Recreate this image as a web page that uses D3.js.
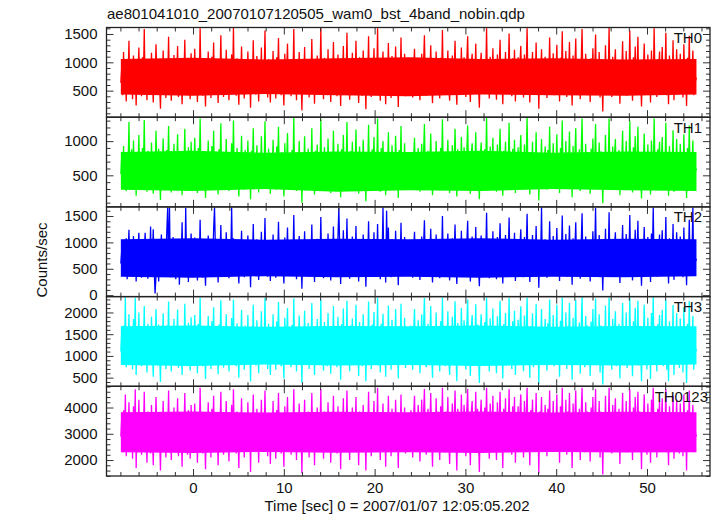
<!DOCTYPE html>
<html><head><meta charset="utf-8">
<script src="https://cdn.jsdelivr.net/npm/d3@7"></script>
<style>body{margin:0;background:#fff}svg{display:block}text{font-family:"Liberation Sans",Arial,Helvetica,sans-serif;fill:#111}</style>
</head><body><svg id="c" width="717" height="516"></svg>
<script>
const titleText = "ae801041010_20070107120505_wam0_bst_4band_nobin.qdp";
const xLabelText = "Time [sec] 0 = 2007/01/07 12:05:05.202";
const yLabelText = "Counts/sec";
const panelNames = ["TH0","TH1","TH2","TH3","TH0123"];
const panelColors = ["#ff0000","#00ff00","#0000ff","#00ffff","#ff00ff"];
const yRanges = [[31,1615],[38,1350],[-27,1672],[301,2365],[1393,4808]];
const yMajorStep = [500,500,500,500,1000];
const yMinorStep = [100,100,100,100,200];
const xRange = [-9.53,56.94];
const xMajorTicks = [0,10,20,30,40,50];
const xMinorStep = 2;
const timeStart = -7.95, timeEnd = 55.45;

// dense core of each light curve (solid band), every ~8 s
const th0BandLow  = [430,410,440,420,400,430,420,410,430];
const th0BandHigh = [1060,1080,1050,1070,1090,1060,1070,1050,1060];
const th1BandLow  = [290,270,300,260,280,270,300,280,270];
const th1BandHigh = [840,860,830,850,840,860,830,850,840];
const th2BandLow  = [350,330,360,340,350,330,350,340,360];
const th2BandHigh = [1060,1080,1050,1070,1060,1080,1050,1070,1060];
const th3BandLow  = [790,770,800,780,790,770,790,780,800];
const th3BandHigh = [1680,1700,1670,1690,1680,1700,1670,1690,1680];
const th0123BandLow  = [2300,2270,2310,2280,2300,2270,2310,2290,2300];
const th0123BandHigh = [3820,3850,3810,3840,3820,3850,3810,3840,3820];

const th0 = [640,910,420,1180,560,820,310,1020,690,1380,470,760,980,350,1120,580,860,240,940,700,
1260,520,830,400,1090,660,1590,480,770,330,1010,620,890,450,1170,710,290,960,540,1320,
800,430,1060,610,180,930,720,1210,500,850,370,1040,670,1450,560,790,320,990,640,1130,
460,880,740,1290,390,1020,590,810,260,970,680,1400,530,900,420,1080,750,350,1160,620,
840,480,1240,700,950,300,1070,560,1600,640,870,410,1010,730,220,940,600,1190,510,820,
370,1100,680,1350,450,920,610,790,280,1050,700,1480,540,860,390,1000,650,1220,470,780,
330,960,720,1140,560,1610,490,830,410,1070,620,250,980,690,1280,530,880,360,1030,740,
460,1190,600,910,200,1020,670,1390,520,850,430,1110,760,310,950,580,1260,490,800,680,
1560,540,900,380,1060,710,290,980,630,1200,470,840,360,1090,740,1430,550,870,420,1000,
660,240,1150,590,810,1330,500,930,720,400,1040,620,1590,480,860,330,990,700,1180,560,
780,150,960,650,1270,440,890,710,1060,380,820,590,1410,510,930,270,1020,680,1120,460,
860,620,1600,530,790,350,1080,700,940,420,1230,580,870,300,1000,660,1360,490,810,720,
400,1140,560,950,230,1050,690,1290,470,880,610,1520,540,760,340,1010,710,1170,450,900,
640,1380,520,830,280,1090,600,970,410,1210,730,860,170,940,680,1460,500,800,390,1040,
710,1250,480,920,600,1600,430,850,320,1070,690,1190,540,880,260,990,650,1340,510,780,
370,1110,620,960,450,1280,700,830,210,1030,580,1440,490,900,660,1150,400,870,720,560,
820,560,1010,690,380,910,1240,600,770,450,1080,880,330,720,1150,540,960,1480,620,410,
850,1030,500,740,1300,660,280,930,810,470,1190,590,1000,720,360,1080,640,1570,530,880,
430,990,760,1210,580,320,940,700,1120,490,830,1380,610,250,1050,780,910,440,1260,670,
570,1090,820,390,1000,1460,630,760,300,970,1150,520,840,680,1330,450,1020,590,200,900,
1170,640,870,480,1060,740,1600,550,930,360,1100,800,620,1250,470,990,700,340,1140,610,
890,1400,520,780,260,1030,680,1180,460,950,730,1510,570,860,400,1070,640,1220,310,820,
700,1090,450,960,1290,590,830,380,1140,670,920,1600,520,790,290,1010,740,1180,430,880,
620,1350,510,870,180,990,720,1230,480,940,600,1100,810,370,1040,660,1440,550,830,690,
1160,420,900,760,1310,540,980,310,1080,690,1550,470,860,620,1200,390,1000,750,1360,580,
800,240,1120,640,910,1420,500,830,720,1060,350,970,1590,610,880,430,1150,700,1010,520,
950,300,1070,680,1250,560,840,1490,470,910,660,1180,380,1020,740,130,960,620,1300,540,
880,710,1610,500,820,390,1100,650,960,1230,440,890,580,1040,270,930,760,1370,480,850,
620,1200,410,970,740,1560,530,860,320,1090,690,1280,560,800,1450,450,1010,710,220,940,
780,1330,600,890,430,1140,660,1000,290,1210,750,540,1600,680,920,390,1060,820,1190,500,
860,1270,470,980,640,1520,420,900,260,1120,730,1010,580,1390,330,970,690,1230,560,840,
450,1150,700,990,380,1320,640,860,230,1080,600,1470,530,920,760,1210,420,890,680,730];

const th1 = [520,780,340,930,460,650,270,840,590,1280,410,700,880,300,1010,480,720,200,820,560,
1090,430,690,330,900,540,1310,390,640,260,860,500,750,360,980,590,230,810,440,1150,
670,350,890,500,140,780,600,1040,410,710,290,870,550,1220,460,660,250,830,520,960,
380,740,610,1100,310,850,480,680,210,810,560,1180,430,760,340,910,620,280,990,510,
700,390,1050,580,800,240,900,460,1330,530,730,330,850,600,170,790,490,1010,420,690,
300,930,560,1150,370,770,500,660,220,880,580,1260,440,720,320,840,540,1030,390,650,
270,800,600,970,460,1300,400,700,330,900,510,190,820,570,1080,430,740,290,870,610,
380,1010,490,760,150,860,550,1190,420,710,350,940,630,250,800,480,1070,400,670,560,
1290,440,750,310,890,590,230,820,520,1020,380,700,290,920,610,1210,450,730,340,840,
540,190,970,480,680,1120,410,780,600,320,870,510,1340,390,720,270,830,580,1000,460,
650,100,800,540,1070,360,740,590,890,310,690,480,1190,420,780,220,860,560,950,380,
720,510,1320,430,660,280,910,580,790,340,1040,480,730,240,840,550,1150,400,680,600,
330,960,460,800,180,880,570,1090,390,740,500,1280,450,630,280,850,590,990,370,760,
530,1170,430,700,230,920,500,820,340,1020,610,720,120,790,560,1240,410,670,320,880,
590,1060,400,780,500,1330,350,710,260,900,570,1000,450,740,210,830,540,1130,420,650,
300,940,510,810,370,1080,580,700,170,870,480,1220,400,760,550,970,330,730,600,460,
680,450,840,560,300,760,1050,490,640,370,900,720,260,590,960,440,800,1250,510,330,
700,860,400,610,1110,540,210,770,670,380,1000,480,830,590,280,900,520,1320,430,730,
350,820,630,1020,470,240,780,570,940,390,690,1180,500,190,880,640,760,350,1060,550,
460,910,680,310,830,1230,510,620,230,800,970,420,700,560,1130,360,850,480,150,750,
980,520,720,380,880,610,1340,450,770,280,920,660,500,1050,380,820,570,260,950,490,
740,1180,420,640,200,860,560,990,370,790,600,1270,460,710,320,890,520,1020,240,680,
570,910,360,800,1090,480,690,300,950,550,760,1340,420,650,220,840,610,990,340,730,
500,1130,410,720,130,820,590,1030,380,780,490,920,670,290,870,540,1210,440,690,570,
970,330,750,620,1100,430,810,240,900,560,1300,380,710,500,1000,310,830,620,1140,470,
660,180,930,520,760,1190,400,690,590,880,270,800,1330,490,730,340,960,570,840,420,
790,230,890,560,1040,450,700,1250,380,760,540,980,300,850,610,90,800,510,1090,440,
730,580,1330,400,680,310,920,530,800,1030,350,740,470,870,210,770,630,1150,390,710,
510,1000,330,810,610,1300,430,720,250,910,570,1070,450,670,1210,360,840,590,160,780,
650,1110,490,740,340,950,540,830,220,1010,620,440,1330,560,770,310,880,680,990,400,
710,1060,380,820,520,1270,340,750,200,930,600,840,470,1160,260,810,570,1030,460,700,
360,960,580,830,300,1100,530,710,170,900,490,1230,430,770,630,1010,340,740,560,600];

const th2 = [600,850,420,920,380,700,1080,300,760,1240,450,680,980,350,1120,540,820,260,900,880,
1180,470,750,330,1010,620,860,1180,480,720,310,950,560,1300,400,790,1250,500,30,360,
1030,640,260,910,700,1150,460,820,390,980,600,1200,1660,520,1660,340,940,680,1100,470,
800,300,1050,590,870,200,990,640,1380,430,760,350,1650,560,840,250,960,700,1170,480,
820,380,1090,620,900,280,1000,540,1430,460,790,330,970,650,180,880,570,1130,430,740,
350,1060,610,1250,1660,850,580,760,240,1000,660,1330,500,820,370,960,630,1190,450,720,
320,900,680,1660,530,1080,460,790,390,1010,590,220,930,650,1220,490,840,340,980,700,
420,1130,560,870,150,970,630,1350,480,810,400,1060,720,290,900,550,1200,460,760,640,
1460,510,850,350,1010,670,270,930,600,1150,440,800,330,1040,700,1390,520,830,390,950,
620,220,1090,560,770,1280,470,880,680,370,990,590,1520,450,820,300,940,660,1120,530,
740,120,910,610,1210,410,850,670,1010,350,780,560,1340,480,890,250,970,640,1070,430,
820,580,1480,500,750,320,1030,660,900,390,1170,550,830,280,950,620,1300,460,770,680,
380,1090,1650,900,210,1000,650,1230,440,840,570,1450,510,720,310,960,670,1110,420,860,
600,1310,490,790,260,1040,560,920,380,1150,690,820,160,890,640,1400,470,760,360,990,
670,1190,450,880,570,1350,400,810,300,1020,650,1660,510,840,240,1600,610,1280,480,740,
340,1060,590,910,420,1220,660,790,190,980,550,1370,460,860,620,1100,380,830,680,530,
760,520,980,640,330,870,1200,560,730,410,1040,840,290,680,1110,500,920,1420,590,380,
810,990,460,700,1260,620,240,890,770,430,1150,550,960,680,320,1040,600,1500,490,840,
400,950,720,1170,540,280,900,660,1080,450,790,1340,570,210,1010,740,870,400,1220,630,
530,1050,780,350,960,1410,590,720,260,930,1110,480,800,640,1290,410,980,550,170,860,
1130,600,830,440,1020,700,1560,510,890,320,1060,760,580,1210,430,950,660,300,1100,570,
850,1360,480,740,220,990,640,1140,420,910,690,1470,530,820,360,1030,600,1180,270,780,
660,1050,410,920,1250,550,790,340,1100,630,880,1540,480,750,250,970,700,1140,390,840,
580,1310,470,830,140,950,680,1660,440,900,560,1060,770,330,1000,620,1400,510,790,650,
1120,380,860,720,1270,500,940,270,1040,650,1510,430,820,580,1160,350,960,710,1320,540,
760,200,1080,600,870,1380,460,790,680,1020,310,930,1550,570,840,390,1110,660,970,480,
910,260,1030,640,1210,520,800,1650,430,870,620,1140,340,980,700,90,920,580,1260,500,
840,670,1570,460,780,350,1060,610,920,1190,400,850,540,1000,230,890,720,1330,440,810,
580,1160,370,930,700,1520,490,820,280,1050,650,1240,520,760,1410,410,970,670,180,900,
740,1290,560,850,390,1100,620,960,250,1170,710,1660,500,640,880,350,1020,780,1150,460,
820,1230,430,940,600,1480,380,860,220,1080,690,970,540,1350,290,930,650,1190,520,800,
410,1110,660,950,340,1280,600,820,190,1040,560,1430,490,880,720,1660,380,850,640,690];

const th3 = [1100,1550,820,1700,980,2350,740,1400,1180,1960,880,1300,1620,690,1850,1050,2340,560,1500,1200,
2000,900,1350,760,1680,1120,2150,850,1280,620,1740,1060,1450,800,1900,1160,520,1580,940,2080,
1320,780,1720,1040,400,1560,1220,1980,900,1400,700,1700,1130,2250,980,1330,640,1620,1090,1850,
860,1460,1250,2070,720,1660,1020,1360,560,1600,1150,2200,950,1480,760,1760,1270,660,1890,1060,
1380,840,1940,1180,1580,600,1740,980,2340,1100,1420,760,1680,1230,470,1550,1040,1920,900,1360,
700,1800,1160,2120,820,1520,1060,1310,580,1720,1190,2280,950,1420,730,1650,1110,1960,860,1300,
640,1590,1220,1870,980,2300,880,1380,760,1750,1060,500,1610,1170,2060,930,1460,680,1700,1240,
830,1940,1030,1500,420,1680,1150,2180,910,1410,780,1820,1280,600,1560,1000,2030,880,1330,1160,
2330,950,1480,700,1740,1200,560,1620,1080,1960,850,1400,680,1790,1250,2240,970,1440,760,1650,
1120,480,1880,1010,1360,2100,890,1550,1210,740,1710,1060,2320,860,1430,640,1640,1180,1930,960,
1320,380,1590,1100,2040,800,1480,1200,1760,700,1380,1010,2220,920,1540,560,1690,1150,1850,840,
1440,1060,2300,930,1330,660,1780,1190,1560,760,1990,990,1450,590,1660,1120,2150,880,1370,1210,
740,1900,980,1600,450,1730,1170,2090,860,1480,1040,2270,940,1280,650,1700,1200,1860,820,1520,
1100,2180,900,1400,540,1780,1020,1590,760,1960,1230,1410,420,1560,1140,2250,880,1340,700,1720,
1210,2010,860,1520,1000,2340,780,1420,620,1740,1160,1970,950,1480,520,1660,1080,2160,920,1310,
680,1830,1060,1560,820,2080,1180,1360,480,1690,1000,2200,870,1490,1110,1880,720,1450,1220,980,
1380,950,1700,1160,680,1560,2080,1040,1300,820,1820,1480,600,1210,1950,920,1620,2330,1080,740,
1430,1740,860,1250,2150,1120,500,1560,1360,830,2000,1010,1680,1220,640,1800,1090,2340,960,1500,
760,1660,1270,2030,990,560,1580,1180,1900,850,1400,2260,1050,420,1760,1300,1540,790,2100,1140,
980,1820,1380,690,1680,2300,1060,1260,540,1620,1940,880,1420,1130,2190,800,1720,1000,380,1520,
1960,1100,1480,830,1780,1230,2340,950,1560,640,1860,1350,1040,2090,820,1670,1170,600,1910,1050,
1500,2270,920,1300,480,1730,1130,1990,780,1590,1220,2330,1010,1440,700,1800,1090,2040,560,1380,
1180,1830,790,1620,2140,980,1400,650,1930,1130,1540,2340,880,1330,500,1690,1250,1980,740,1480,
1060,2200,880,1470,360,1660,1220,2080,840,1580,1010,1850,1360,660,1750,1110,2300,950,1400,1170,
1940,760,1510,1290,2180,930,1640,520,1810,1160,2340,820,1450,1010,2000,700,1680,1260,2220,990,
1350,450,1880,1080,1530,2290,860,1400,1170,1770,590,1620,2350,1040,1480,740,1920,1190,1700,880,
1600,540,1790,1150,2080,960,1420,2320,800,1520,1080,1960,620,1700,1240,340,1610,1050,2160,930,
1480,1210,2340,860,1380,680,1850,1100,1550,2030,760,1500,1000,1740,480,1560,1220,2220,830,1420,
1040,2000,720,1620,1200,2330,850,1390,530,1800,1100,2110,960,1280,2270,780,1690,1150,420,1580,
1300,2180,1010,1480,690,1880,1070,1640,470,1990,1200,2350,880,1120,1530,640,1730,1330,1940,800,
1400,2060,760,1570,1040,2300,680,1460,420,1800,1170,1640,940,2170,560,1550,1100,1990,890,1350,
720,1860,1130,1600,620,2120,1020,1400,380,1740,970,2260,850,1480,1220,1920,680,1430,1090,1160];

const th0123 = [2900,3600,2300,3900,2650,4500,2150,3350,2850,4200,2450,3150,3750,2050,4050,2750,4700,1700,3500,3000,
4300,2500,3300,2200,3800,2900,4600,2400,3200,1900,3850,2800,3450,2250,4100,3000,1800,3650,2600,4400,
3200,2300,3800,2850,1600,3550,3050,4250,2500,3350,2100,3750,2950,4650,2700,3250,2000,3650,2900,4000,
2450,3450,3100,4350,2150,3700,2750,3300,1750,3600,2950,4550,2600,3450,2200,3900,3150,2050,4100,2800,
3300,2350,4150,3000,3550,1900,3800,2700,4750,2900,3400,2250,3750,3100,1650,3550,2750,4200,2550,3250,
2100,3950,3000,4450,2400,3500,2850,3250,1800,3800,3050,4600,2650,3400,2200,3700,2950,4250,2500,3200,
1950,3600,3100,4100,2700,4700,2550,3350,2250,3850,2900,1700,3650,3000,4350,2600,3450,2100,3800,3150,
2400,4200,2850,3500,1550,3700,2950,4500,2600,3350,2300,3950,3200,1900,3550,2800,4300,2500,3250,3050,
4650,2700,3450,2150,3800,3100,1850,3600,2900,4250,2450,3350,2050,3900,3150,4550,2750,3400,2250,3700,
3000,1750,4050,2850,3300,4400,2550,3550,3100,2200,3750,2900,4700,2500,3400,2000,3650,3050,4150,2700,
3250,1500,3600,2950,4300,2350,3450,3100,3850,2100,3300,2800,4550,2600,3500,1800,3700,3000,4000,2450,
3400,2900,4700,2650,3250,2050,3850,3050,3550,2300,4200,2800,3400,1900,3650,2950,4450,2550,3300,3100,
2250,4050,2750,3600,1650,3750,3000,4350,2600,3450,2850,4650,2700,3200,2000,3700,3050,4000,2450,3500,
2950,4400,2600,3350,1800,3850,2800,3550,2300,4100,3150,3400,1600,3600,2950,4600,2550,3300,2150,3750,
3100,4250,2500,3500,2850,4750,2400,3400,2000,3800,3000,4150,2700,3450,1750,3650,2900,4450,2600,3250,
2150,3950,2850,3550,2400,4300,3050,3300,1700,3700,2800,4500,2550,3450,2950,4000,2250,3400,3100,2750,
3350,2650,3900,3050,2100,3700,4450,2800,3250,2350,4100,3550,1950,3100,4300,2600,3750,4700,2900,2200,
3450,3950,2500,3150,4550,2950,1750,3650,3350,2400,4350,2750,3850,3050,2000,4050,2850,4750,2650,3550,
2300,3850,3150,4400,2800,1850,3750,3000,4150,2550,3400,4650,2850,1600,3950,3300,3650,2350,4500,3000,
2750,4100,3400,2150,3900,4700,2900,3200,1800,3800,4250,2600,3450,3050,4600,2450,3950,2850,1550,3600,
4300,2950,3500,2450,4000,3150,4750,2700,3700,2050,4150,3350,2850,4450,2500,3800,3050,2000,4200,2900,
3550,4600,2600,3250,1700,3950,3000,4350,2400,3750,3150,4700,2800,3500,2200,4050,2950,4400,1900,3400,
3100,4050,2400,3800,4500,2800,3350,2100,4250,3000,3650,4750,2650,3300,1800,3900,3200,4300,2350,3550,
2900,4550,2600,3500,1500,3850,3150,4400,2500,3700,2850,4100,3300,2150,3950,3000,4650,2750,3450,3100,
4250,2350,3600,3250,4500,2700,3800,1900,4050,3050,4750,2450,3450,2850,4300,2200,3850,3200,4550,2800,
3350,1700,4150,2950,3600,4650,2550,3400,3100,3950,2000,3750,4750,2850,3550,2300,4200,3100,3850,2600,
3700,1950,4000,3050,4400,2750,3400,4700,2400,3600,2950,4250,2100,3850,3200,1450,3750,2850,4450,2700,
3500,3150,4750,2600,3350,2250,4100,3000,3650,4350,2400,3550,2850,3950,1850,3700,3200,4550,2600,3400,
2850,4250,2300,3750,3150,4700,2650,3450,2000,4000,3000,4400,2750,3300,4600,2450,3850,3100,1650,3650,
3300,4500,2900,3550,2200,4150,3050,3800,1900,4300,3250,4750,2600,3150,3700,2100,3950,3400,4250,2550,
3450,4350,2400,3650,2950,4700,2300,3500,1800,4050,3200,3750,2800,4450,2050,3600,3050,4300,2700,3350,
2250,4150,3100,3700,2150,4500,2950,3450,1600,3900,2800,4650,2600,3500,3200,4100,2300,3550,3000,2900];

const seriesList = [th0, th1, th2, th3, th0123];
const bandLows = [th0BandLow, th1BandLow, th2BandLow, th3BandLow, th0123BandLow];
const bandHighs = [th0BandHigh, th1BandHigh, th2BandHigh, th3BandHigh, th0123BandHigh];

const svg = d3.select("#c");
const L = 106.5, R = 710, T = 27.5, B = 476;
const ph = (B - T) / 5;
const FS = 15;
const x = d3.scaleLinear().domain(xRange).range([L, R]);

function stepTicks(d, step) {
  const out = [];
  for (let v = Math.ceil(d[0] / step) * step; v <= d[1] + 1e-9; v += step) out.push(+v.toFixed(6));
  return out;
}
function timesFor(n) { return d3.range(n).map(k => timeStart + k * (timeEnd - timeStart) / (n - 1)); }
const xMinor = stepTicks(xRange, xMinorStep).filter(v => !xMajorTicks.includes(v));
const fmt = d3.format("d");
const defs = svg.append("defs");

seriesList.forEach((vals, i) => {
  const top = T + i * ph, bot = top + ph;
  const y = d3.scaleLinear().domain(yRanges[i]).range([bot, top]);
  const times = timesFor(vals.length);
  const bTimes = timesFor(bandLows[i].length);

  defs.append("clipPath").attr("id", "clip" + i)
    .append("rect").attr("x", L).attr("y", top).attr("width", R - L).attr("height", ph);

  const area = d3.area().x((d, k) => x(bTimes[k])).y0(d => y(d[0])).y1(d => y(d[1]));
  svg.append("path").datum(bandLows[i].map((lo, k) => [lo, bandHighs[i][k]]))
    .attr("clip-path", `url(#clip${i})`)
    .attr("d", area)
    .attr("fill", panelColors[i]);

  const line = d3.line().x((d, k) => x(times[k])).y(d => y(d));
  svg.append("path").datum(vals)
    .attr("clip-path", `url(#clip${i})`)
    .attr("d", line)
    .attr("fill", "none")
    .attr("stroke", panelColors[i])
    .attr("stroke-width", 1.3);

  const majors = stepTicks(yRanges[i], yMajorStep[i]);
  const minors = stepTicks(yRanges[i], yMinorStep[i]).filter(v => !majors.some(m => Math.abs(m - v) < 1e-6));

  const styleAxis = g => {
    g.select(".domain").remove();
    g.selectAll("line").attr("stroke", "#333").attr("stroke-width", 1);
    g.selectAll("text").attr("font-size", FS).attr("font-family", null).attr("fill", "#111");
  };

  svg.append("g").attr("transform", `translate(${L},0)`)
    .call(d3.axisLeft(y).tickValues(majors).tickSize(-7).tickPadding(9).tickFormat(fmt)).call(styleAxis);
  svg.append("g").attr("transform", `translate(${L},0)`)
    .call(d3.axisLeft(y).tickValues(minors).tickSize(-4).tickFormat("")).call(styleAxis);
  svg.append("g").attr("transform", `translate(${R},0)`)
    .call(d3.axisRight(y).tickValues(majors).tickSize(-7).tickFormat("")).call(styleAxis);
  svg.append("g").attr("transform", `translate(${R},0)`)
    .call(d3.axisRight(y).tickValues(minors).tickSize(-4).tickFormat("")).call(styleAxis);
  svg.append("g").attr("transform", `translate(0,${top})`)
    .call(d3.axisTop(x).tickValues(xMajorTicks).tickSize(-7).tickFormat("")).call(styleAxis);
  svg.append("g").attr("transform", `translate(0,${top})`)
    .call(d3.axisTop(x).tickValues(xMinor).tickSize(-4).tickFormat("")).call(styleAxis);
  const bAx = d3.axisBottom(x).tickValues(xMajorTicks).tickSize(-7).tickPadding(6).tickFormat(i < 4 ? "" : fmt);
  svg.append("g").attr("transform", `translate(0,${bot})`).call(bAx).call(styleAxis);
  svg.append("g").attr("transform", `translate(0,${bot})`)
    .call(d3.axisBottom(x).tickValues(xMinor).tickSize(-4).tickFormat("")).call(styleAxis);

  svg.append("text")
    .attr("x", i === 4 ? 708 : 702).attr("y", top + 15.5)
    .attr("text-anchor", "end").attr("font-size", FS)
    .text(panelNames[i]);
});

for (let i = 0; i < 5; i++) {
  svg.append("rect").attr("x", L).attr("y", T + i * ph).attr("width", R - L).attr("height", ph)
    .attr("fill", "none").attr("stroke", "#222").attr("stroke-width", 1.3);
}

svg.append("text").attr("x", 107).attr("y", 19).attr("font-size", FS).text(titleText);
svg.append("text").attr("x", 397).attr("y", 511).attr("text-anchor", "middle").attr("font-size", FS).text(xLabelText);
svg.append("text").attr("transform", "translate(47,260) rotate(-90)").attr("text-anchor", "middle")
  .attr("font-size", FS).text(yLabelText);
</script></body></html>
